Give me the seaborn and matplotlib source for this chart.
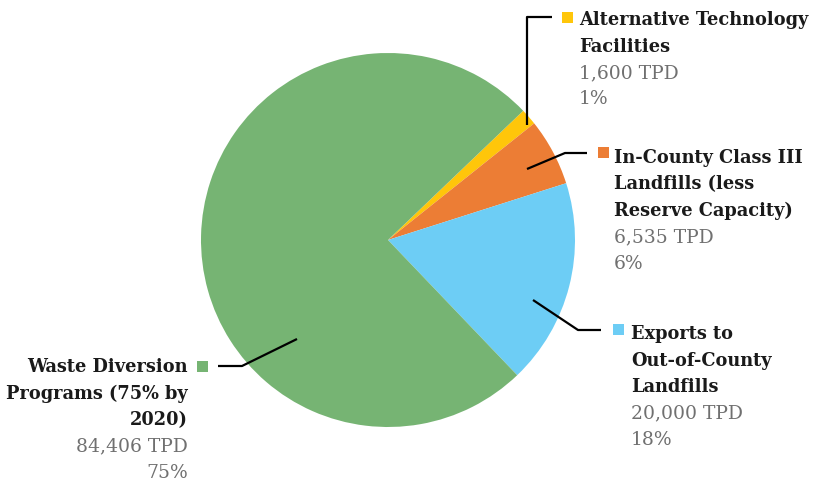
import matplotlib
matplotlib.use("Agg")
import matplotlib.pyplot as plt
import seaborn as sns

# Daily tonnage by disposal pathway (tons per day)
categories = [
    "Alternative Technology\nFacilities",
    "In-County Class III\nLandfills (less\nReserve Capacity)",
    "Exports to\nOut-of-County\nLandfills",
    "Waste Diversion\nPrograms (75% by\n2020)",
]
tpd = [1600, 6535, 20000, 84406]
colors = ["#FFC60A", "#EC7D35", "#6DCDF5", "#76B473"]

sns.set_theme(style="white")
plt.rcParams["font.family"] = ["DejaVu Serif"]

W, H = 813, 483
fig = plt.figure(figsize=(W / 100, H / 100), dpi=100)
ax = fig.add_axes([0, 0, 1, 1])

total = sum(tpd)
start = 43.7
ax.pie(tpd, colors=colors, startangle=start, counterclock=False,
       center=(388, H - 240), radius=187,
       wedgeprops=dict(linewidth=0), frame=False)
ax.set_xlim(0, W)
ax.set_ylim(0, H)
ax.set_aspect("equal")
ax.axis("off")

def Y(y):
    return H - y

# leader lines (pixel coordinates, y measured from the top)
leaders = [
    [(527, 125), (527, 17), (552, 17)],
    [(527, 169), (565, 153), (587, 153)],
    [(533, 300), (578, 330), (601, 330)],
    [(297, 339), (242, 366), (218, 366)],
]
for pts in leaders:
    ax.plot([p[0] for p in pts], [Y(p[1]) for p in pts], color="black",
            lw=1.6, solid_capstyle="butt")

# label blocks: marker square, bold title lines, gray value lines
blocks = [
    dict(sq=(562, 12), x=579, y0=20, ha="left"),
    dict(sq=(598, 147), x=614, y0=158, ha="left"),
    dict(sq=(613, 324), x=631, y0=334, ha="left"),
    dict(sq=(197, 361), x=188, y0=367, ha="right"),
]
step = 26.5
for cat, v, c, b in zip(categories, tpd, colors, blocks):
    sx, sy = b["sq"]
    ax.add_patch(plt.Rectangle((sx, Y(sy + 11)), 11, 11, color=c, lw=0))
    lines = cat.split("\n")
    y = b["y0"]
    for ln in lines:
        ax.text(b["x"], Y(y), ln, ha=b["ha"], va="center", fontsize=12.8,
                fontweight="bold", color="#1a1a1a")
        y += step
    pct = round(v / total * 100)
    for ln in (f"{v:,} TPD", f"{pct}%"):
        ax.text(b["x"], Y(y), ln, ha=b["ha"], va="center", fontsize=13.5,
                color="#707070")
        y += step

fig.savefig("out.png", dpi=100)
